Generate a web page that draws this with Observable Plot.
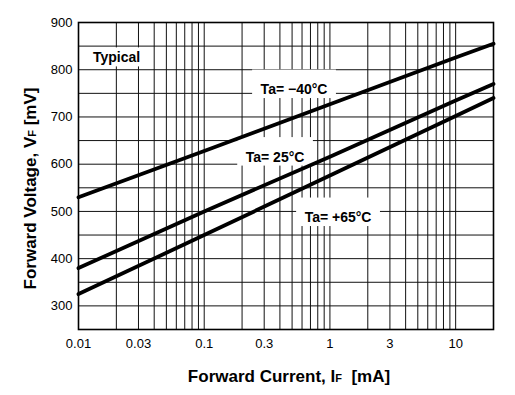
<!DOCTYPE html>
<html><head><meta charset="utf-8">
<script src="https://cdn.jsdelivr.net/npm/d3@7"></script>
<script src="https://cdn.jsdelivr.net/npm/@observablehq/plot@0.6"></script>
<style>html,body{margin:0;padding:0;background:#fff} svg{display:block}</style>
</head><body><div id="chart"></div>
<script>
// Forward current (mA) sample points and forward voltage (mV) per temperature
const currents = [0.01, 0.1, 1, 10, 20];
const vTaMinus40 = [530, 628, 727, 826, 855];
const vTa25 = [380, 500, 616, 735, 770];
const vTa65 = [325, 450, 576, 702, 740];
const seriesNames = ["Ta= −40°C", "Ta= 25°C", "Ta= +65°C"];

// Axis ticks and grid
const xTickValues = [0.01, 0.03, 0.1, 0.3, 1, 3, 10];
const yTickValues = [300, 400, 500, 600, 700, 800, 900];
const xGridValues = [0.01, 0.02, 0.03, 0.04, 0.05, 0.06, 0.07, 0.08, 0.09,
                     0.1, 0.2, 0.3, 0.4, 0.5, 0.6, 0.7, 0.8, 0.9,
                     1, 2, 3, 4, 5, 6, 7, 8, 9, 10, 20];
const yGridValues = [300, 350, 400, 450, 500, 550, 600, 650, 700, 750, 800, 850];

// Annotation labels (anchor in data units)
const labelTexts = ["Typical", "Ta= −40°C", "Ta= 25°C", "Ta= +65°C"];
const labelCurrents = [0.0201, 0.518, 0.366, 1.16];
const labelVoltages = [825, 758, 615, 487];

const seriesValues = [vTaMinus40, vTa25, vTa65];
const curveData = seriesNames.flatMap((name, s) =>
  currents.map((c, i) => ({series: name, I: c, V: seriesValues[s][i]})));
const labelData = labelTexts.map((t, i) => ({text: t, I: labelCurrents[i], V: labelVoltages[i]}));

const FONT = "'Liberation Sans', Arial, Helvetica, sans-serif";

const svg = Plot.plot({
  width: 515,
  height: 395,
  marginLeft: 78,
  marginRight: 22,
  marginTop: 22,
  marginBottom: 66,
  style: {fontFamily: FONT, fontSize: "13px", color: "black", background: "white", overflow: "visible"},
  x: {type: "log", domain: [0.01, 20], ticks: xTickValues, tickSize: 0, tickPadding: 9.5,
      tickFormat: d => String(d), label: null},
  y: {domain: [250, 900], ticks: yTickValues, tickSize: 0, tickPadding: 6,
      tickFormat: d => String(d), label: null},
  marks: [
    Plot.ruleX(xGridValues, {stroke: "#111", strokeWidth: 1}),
    Plot.ruleY(yGridValues, {stroke: "#111", strokeWidth: 1}),
    Plot.text(labelData, {x: "I", y: "V", text: "text", fontFamily: FONT, fontSize: 14,
      fontWeight: "bold", fill: "black", textAnchor: "middle"}),
    Plot.line(curveData, {x: "I", y: "V", z: "series", stroke: "black", strokeWidth: 3.8}),
    Plot.frame({stroke: "black", strokeWidth: 1.6})
  ]
});
document.getElementById("chart").append(svg);

const NS = "http://www.w3.org/2000/svg";
// white boxes behind the annotation labels (drawn under the curves)
svg.querySelectorAll('g[aria-label="text"] text').forEach(t => {
  const bb = t.getBBox();
  const isTa = t.textContent.startsWith("Ta");
  const padTop = isTa ? 11.5 : 2;
  const padBottom = 1;
  const r = document.createElementNS(NS, "rect");
  r.setAttribute("x", bb.x - 8.5);
  r.setAttribute("y", bb.y - padTop);
  r.setAttribute("width", bb.width + 17);
  r.setAttribute("height", bb.height + padTop + padBottom);
  r.setAttribute("fill", "white");
  r.setAttribute("stroke", "none");
  if (t.getAttribute("transform")) r.setAttribute("transform", t.getAttribute("transform"));
  t.parentNode.insertBefore(r, t);
});

function title(parts, attrs) {
  const el = document.createElementNS(NS, "text");
  for (const [k, v] of Object.entries(attrs)) el.setAttribute(k, v);
  el.setAttribute("font-family", FONT);
  el.setAttribute("font-weight", "bold");
  el.setAttribute("font-size", "17");
  el.setAttribute("fill", "black");
  el.setAttribute("text-anchor", "middle");
  el.setAttribute("xml:space", "preserve");
  for (const p of parts) {
    const ts = document.createElementNS(NS, "tspan");
    ts.textContent = p.t;
    if (p.sub) { ts.setAttribute("font-size", "11"); }
    el.appendChild(ts);
  }
  svg.appendChild(el);
}
title([{t: "Forward Current, I"}, {t: "F", sub: true}, {t: "  [mA]"}],
      {x: 289, y: 382});
title([{t: "Forward Voltage, V"}, {t: "F", sub: true}, {t: " [mV]"}],
      {transform: "translate(36,188.5) rotate(-90)"});
</script>
</body></html>
